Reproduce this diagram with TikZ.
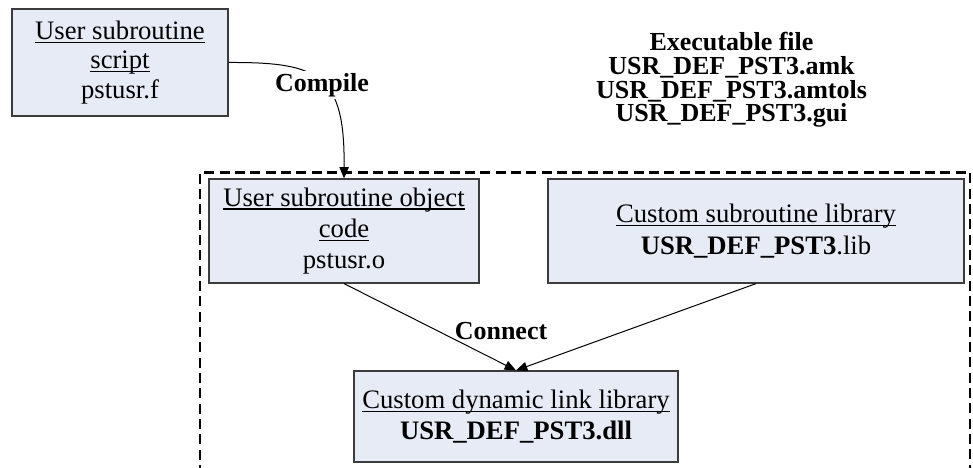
\documentclass[tikz,border=0pt]{standalone}
\usepackage{fontspec}
\setmainfont{Liberation Serif}
\usetikzlibrary{arrows.meta}
\definecolor{boxfill}{RGB}{231,235,245}
\definecolor{boxline}{RGB}{60,60,60}
\newsavebox\myulbox
\newcommand\myul[1]{\sbox\myulbox{#1}\rlap{\rule[-2.6pt]{\wd\myulbox}{0.8pt}}\usebox\myulbox}
\newcommand\tightlines{\lineskiplimit=-20pt\relax}
\begin{document}
\begin{tikzpicture}[x=0.75pt,y=-0.75pt,
  procbox/.style={draw=boxline,line width=0.9pt,fill=boxfill,align=center,inner sep=0pt,
    font=\fontsize{20}{23.5}\selectfont\tightlines},
  lbl/.style={font=\fontsize{19.5}{23}\selectfont\bfseries,inner sep=2pt},
  conn/.style={draw=black,line width=0.75pt,-{Triangle[length=8.5pt,width=7pt]}},
  grp/.style={draw=black,line width=2pt,dash pattern=on 7.5pt off 4pt}]
\useasboundingbox (0,0) rectangle (973,467);
\node[procbox,minimum width=162pt,minimum height=80.25pt,
  font=\fontsize{20}{22}\selectfont\tightlines] (b1) at (120,62.5)
  {\myul{User subroutine}\\ \myul{script}\\ pstusr.f};
\node[procbox,minimum width=202.5pt,minimum height=78pt] (b2) at (344,231)
  {\myul{User subroutine object}\\ \myul{code}\\ pstusr.o};
\node[procbox,minimum width=312pt,minimum height=78pt] (b3) at (756,231)
  {\myul{Custom subroutine library}\\ \textbf{USR\_DEF\_PST3}.lib};
\node[procbox,minimum width=243pt,minimum height=68.25pt] (b4) at (516,416.5)
  {\myul{Custom dynamic link library}\\ \textbf{USR\_DEF\_PST3.dll}};
\node[align=center,font=\fontsize{19.5}{17.8}\selectfont\bfseries\tightlines] (exe) at (731.5,80)
  {Executable file\\ USR\_DEF\_PST3.amk\\ USR\_DEF\_PST3.amtols\\ USR\_DEF\_PST3.gui};
\coordinate (gbl) at (200,475);
\coordinate (gtl) at (200,172.5);
\coordinate (gtr) at (970,172.5);
\coordinate (gbr) at (970,475);
\draw[grp] (gbl) -- (gtl) -- (gtr) -- (gbr);
\draw[conn] (b1.east) .. controls (320,62) and (345,75) .. (b2.north);
\node[lbl,fill=white,inner xsep=3pt,inner ysep=1.5pt] (compile) at (322,85) {Compile};
\draw[conn] (b2.south) -- (b4.north);
\draw[conn] (b3.south) -- (b4.north);
\node[lbl] (connect) at (501,331.5) {Connect};
\end{tikzpicture}
\end{document}
